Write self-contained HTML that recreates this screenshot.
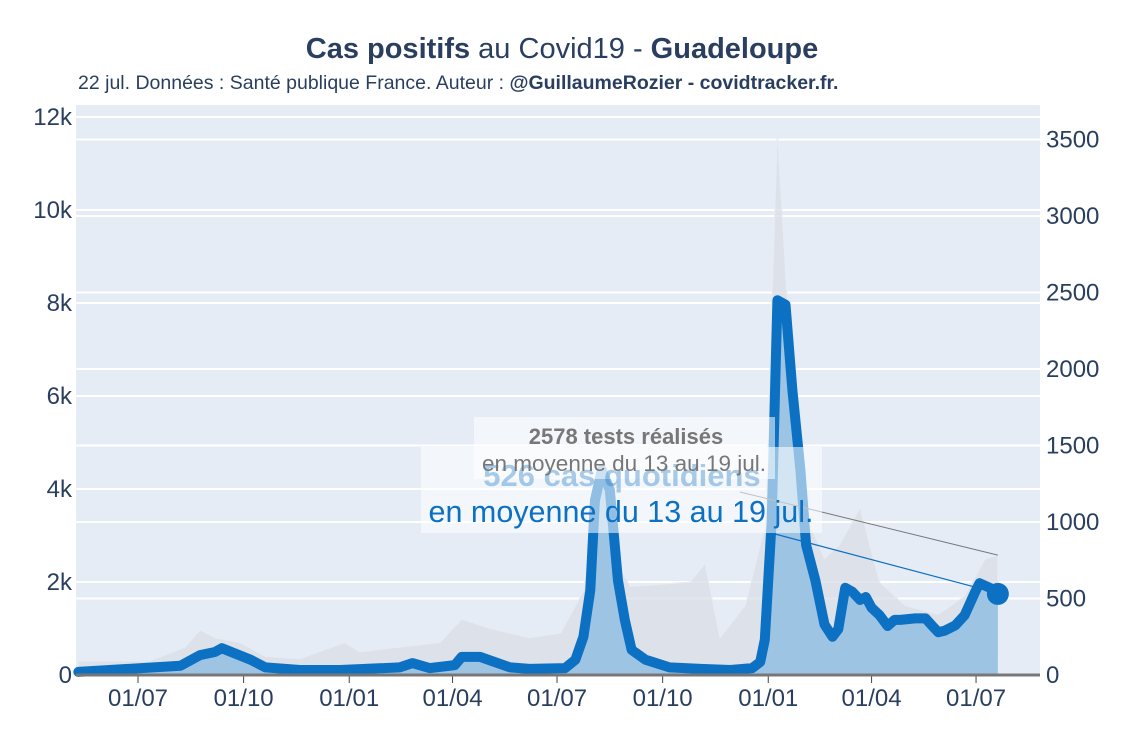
<!DOCTYPE html>
<html><head><meta charset="utf-8"><style>
body{margin:0;background:#fff;}
svg{display:block;font-family:"Liberation Sans",sans-serif;}
</style></head><body>
<svg id="chart" width="1125" height="750" viewBox="0 0 1125 750">
<rect x="0" y="0" width="1125" height="750" fill="#fff"/>
<text x="562" y="58" text-anchor="middle" font-size="29" fill="#2a3f5f"><tspan font-weight="bold">Cas positifs</tspan> au Covid19 - <tspan font-weight="bold">Guadeloupe</tspan></text>
<text x="78" y="89" font-size="19.5" fill="#2a3f5f">22 jul. Données : Santé publique France. Auteur : <tspan font-weight="bold">@GuillaumeRozier - covidtracker.fr.</tspan></text>
<rect x="76" y="105" width="964" height="570" fill="#e5ecf6"/>
<g id="grid"></g><g id="marks"></g><g id="axes"></g><g id="annot"></g>
</svg>
<script>
const testDates=["2020-05-10","2020-07-11","2020-08-11","2020-08-24","2020-09-06","2020-09-28","2020-10-20","2020-11-19","2020-12-28","2021-01-10","2021-02-14","2021-03-21","2021-04-09","2021-05-04","2021-06-07","2021-07-04","2021-07-24","2021-08-07","2021-08-20","2021-09-03","2021-10-25","2021-11-07","2021-11-20","2021-12-12","2021-12-29","2022-01-09","2022-01-20","2022-02-02","2022-02-19","2022-03-04","2022-03-22","2022-04-08","2022-04-30","2022-05-29","2022-06-21","2022-07-09","2022-07-20"];
const testValues=[300,300,600,970,800,700,400,350,700,500,600,700,1200,1000,800,900,1800,4200,2500,1900,2000,2400,800,1500,3200,11700,7000,3500,2500,2800,3600,2000,1500,1300,1700,2500,2578];
const caseDates=["2020-05-10","2020-08-07","2020-08-24","2020-09-06","2020-09-12","2020-10-07","2020-10-20","2020-11-19","2020-12-24","2021-02-14","2021-02-25","2021-03-12","2021-04-03","2021-04-09","2021-04-25","2021-05-21","2021-06-07","2021-07-08","2021-07-17","2021-07-24","2021-07-30","2021-08-03","2021-08-09","2021-08-16","2021-08-23","2021-08-29","2021-09-04","2021-09-16","2021-10-07","2021-11-03","2021-11-29","2021-12-18","2021-12-25","2021-12-29","2022-01-04","2022-01-09","2022-01-16","2022-01-22","2022-01-29","2022-02-03","2022-02-11","2022-02-19","2022-02-26","2022-03-03","2022-03-09","2022-03-15","2022-03-22","2022-03-27","2022-04-01","2022-04-08","2022-04-15","2022-04-21","2022-04-26","2022-05-09","2022-05-18","2022-05-24","2022-05-29","2022-06-04","2022-06-13","2022-06-21","2022-06-30","2022-07-04","2022-07-13","2022-07-20"];
const caseValues=[20,60,130,150,175,100,50,33,33,50,78,45,65,118,118,50,40,45,100,250,555,1140,1340,1210,620,360,165,100,50,40,33,45,85,230,1010,2450,2420,1860,1340,850,620,330,250,300,570,545,490,510,440,390,320,360,360,370,370,320,280,290,325,390,540,600,570,530];
const leftTicks=[0,2000,4000,6000,8000,10000,12000];
const leftTickLabels=["0","2k","4k","6k","8k","10k","12k"];
const rightTicks=[0,500,1000,1500,2000,2500,3000,3500];
const xTickDates=["2020-07-01","2020-10-01","2021-01-01","2021-04-01","2021-07-01","2021-10-01","2022-01-01","2022-04-01","2022-07-01"];
const xTickLabels=["01/07","01/10","01/01","01/04","01/07","01/10","01/01","01/04","01/07"];

const NS="http://www.w3.org/2000/svg";
const t0=Date.UTC(2020,6,1);
function xs(d){const p=d.split('-');const t=Date.UTC(+p[0],+p[1]-1,+p[2]);return 138+(t-t0)/86400000*1.148;}
function yl(v){return 675-v*0.0465;}
function yr(v){return 675-v*0.153;}
function mk(tag,attrs,parent){const e=document.createElementNS(NS,tag);for(const k in attrs)e.setAttribute(k,attrs[k]);parent.appendChild(e);return e;}
const grid=document.getElementById('grid'),marks=document.getElementById('marks'),axes=document.getElementById('axes'),annot=document.getElementById('annot');

leftTicks.forEach((v,i)=>{
  if(v>0){const g=mk('line',{x1:76,x2:1040,y1:yl(v),y2:yl(v),stroke:'#fff','stroke-width':2},grid);
  
  }
  const t=mk('text',{x:72,y:yl(v)+8,'text-anchor':'end','font-size':24,fill:'#2a3f5f'},axes);
  t.textContent=leftTickLabels[i];
  
  
});
rightTicks.forEach(v=>{
  if(v>0){const g=mk('line',{x1:76,x2:1040,y1:yr(v),y2:yr(v),stroke:'#fff','stroke-width':2},grid);
  
  }
  const t=mk('text',{x:1046,y:yr(v)+8,'font-size':24,fill:'#2a3f5f'},axes);
  t.textContent=String(v);
  
  
});
xTickDates.forEach((d,i)=>{
  const x=xs(d);
  const l=mk('line',{x1:x,x2:x,y1:675,y2:683,stroke:'#444','stroke-width':1},axes);
  
  
  const t=mk('text',{x:x,y:706,'text-anchor':'middle','font-size':24,fill:'#2a3f5f'},axes);
  t.textContent=xTickLabels[i];
  
  
});

function areaPath(dates,vals,yf){let d='M'+xs(dates[0])+','+675;dates.forEach((dt,i)=>{d+=' L'+xs(dt).toFixed(1)+','+yf(vals[i]).toFixed(1);});d+=' L'+xs(dates[dates.length-1])+',675 Z';return d;}
const ta=mk('path',{d:areaPath(testDates,testValues,yl),fill:'#d9dee6','fill-opacity':0.75,stroke:'#e8ebf0','stroke-width':1},marks);


const ca=mk('path',{d:areaPath(caseDates,caseValues,yr),fill:'#9ec4e4'},marks);


const pts=caseDates.map((dt,i)=>xs(dt).toFixed(1)+','+yr(caseValues[i]).toFixed(1)).join(' ');
const cl=mk('polyline',{points:pts,fill:'none',stroke:'#0c71c3','stroke-width':10,'stroke-linejoin':'round','stroke-linecap':'round'},marks);


const li=caseDates.length-1;
const dot=mk('circle',{cx:xs(caseDates[li]),cy:yr(caseValues[li]),r:11,fill:'#0c71c3'},marks);


const ax=mk('line',{x1:76,x2:1040,y1:675,y2:675,stroke:'#777','stroke-width':3},axes);



// annotations
const tl=testDates.length-1;
const gl=mk('line',{x1:740,y1:492,x2:xs(testDates[tl]),y2:yl(testValues[tl]),stroke:'#777','stroke-width':1},annot);


const bl=mk('line',{x1:775,y1:534,x2:xs(caseDates[li])-12,y2:yr(caseValues[li])-4,stroke:'#0c71c3','stroke-width':1.2},annot);


const tb=mk('rect',{x:474,y:417,width:301,height:62,fill:'#fff','fill-opacity':0.55},annot);


const cb=mk('rect',{x:421,y:447,width:401,height:86,fill:'#fff','fill-opacity':0.55},annot);


const c1=mk('text',{x:622,y:486,'text-anchor':'middle','font-size':31,'font-weight':'bold',fill:'#0c71c3','fill-opacity':0.35},annot);
c1.textContent='526 cas quotidiens';


const t1=mk('text',{x:626,y:444,'text-anchor':'middle','font-size':22,'font-weight':'bold',fill:'#777'},annot);
t1.textContent='2578 tests réalisés';


const t2=mk('text',{x:624,y:471,'text-anchor':'middle','font-size':22.5,fill:'#777'},annot);
t2.textContent='en moyenne du 13 au 19 jul.';


const c2=mk('text',{x:621,y:522,'text-anchor':'middle','font-size':30.5,fill:'#0c71c3'},annot);
c2.textContent='en moyenne du 13 au 19 jul.';


</script>
</body></html>
